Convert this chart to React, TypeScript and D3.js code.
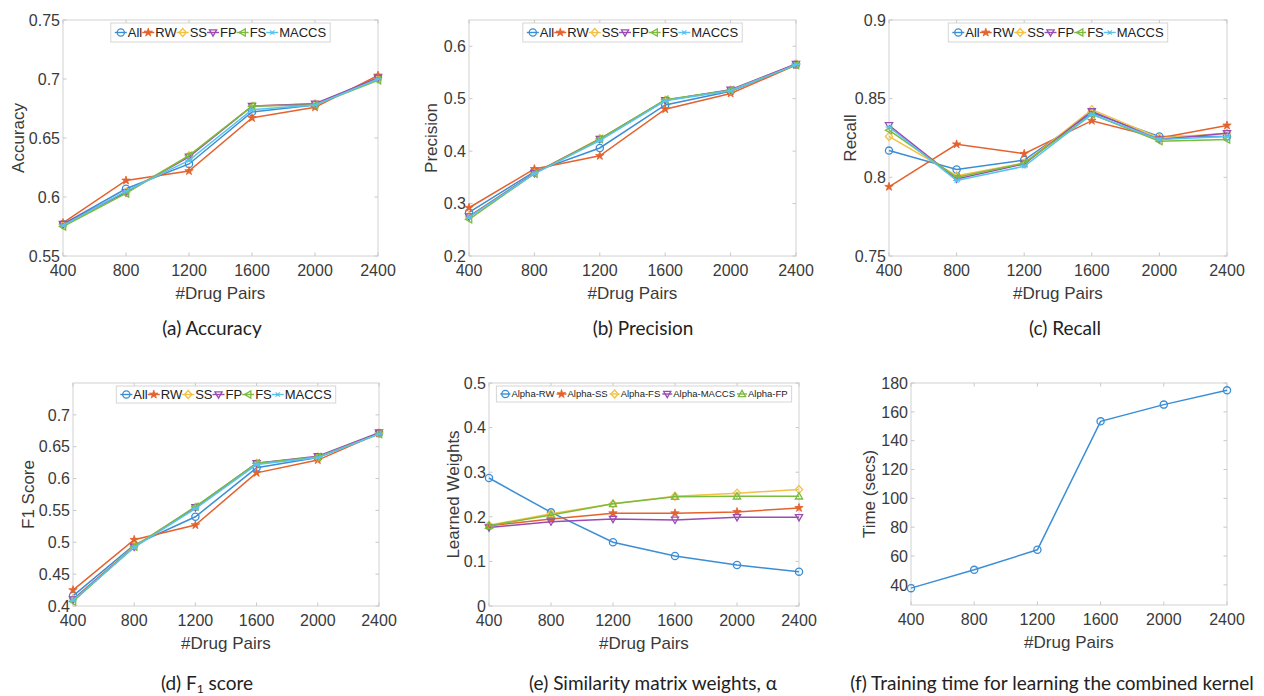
import React from "react";
import * as d3 from "d3";

// x values shared by every panel
const drugPairs = [400, 800, 1200, 1600, 2000, 2400];

const methodNames = ["All", "RW", "SS", "FP", "FS", "MACCS"];
const methodColors = ["#3b8ed5", "#e4622d", "#f2c146", "#9a4cb2", "#7bbb3f", "#58c3ef"];
const methodMarkers = ["circle", "star", "diamond", "down", "left", "cross"];

// rows follow methodNames
const accuracy = [
  [0.577, 0.607, 0.628, 0.672, 0.678, 0.701],
  [0.578, 0.614, 0.622, 0.667, 0.676, 0.703],
  [0.576, 0.604, 0.635, 0.677, 0.679, 0.7],
  [0.577, 0.604, 0.634, 0.677, 0.679, 0.701],
  [0.575, 0.603, 0.635, 0.677, 0.678, 0.699],
  [0.576, 0.605, 0.631, 0.674, 0.678, 0.7],
];
const precision = [
  [0.283, 0.361, 0.406, 0.488, 0.514, 0.565],
  [0.292, 0.366, 0.391, 0.48, 0.51, 0.564],
  [0.276, 0.358, 0.424, 0.497, 0.516, 0.566],
  [0.275, 0.358, 0.423, 0.497, 0.517, 0.566],
  [0.27, 0.357, 0.423, 0.498, 0.516, 0.564],
  [0.274, 0.357, 0.42, 0.496, 0.515, 0.565],
];
const recall = [
  [0.817, 0.805, 0.811, 0.841, 0.826, 0.826],
  [0.794, 0.821, 0.815, 0.836, 0.825, 0.833],
  [0.826, 0.801, 0.809, 0.843, 0.825, 0.828],
  [0.833, 0.799, 0.8085, 0.842, 0.824, 0.828],
  [0.83, 0.8, 0.809, 0.84, 0.823, 0.824],
  [0.832, 0.798, 0.807, 0.84, 0.824, 0.826],
];
const f1Score = [
  [0.416, 0.496, 0.54, 0.617, 0.633, 0.671],
  [0.425, 0.504, 0.527, 0.609, 0.629, 0.671],
  [0.411, 0.494, 0.555, 0.624, 0.634, 0.671],
  [0.41, 0.493, 0.555, 0.624, 0.635, 0.672],
  [0.407, 0.493, 0.556, 0.624, 0.634, 0.67],
  [0.409, 0.492, 0.553, 0.622, 0.633, 0.67],
];

const alphaNames = ["Alpha-RW", "Alpha-SS", "Alpha-FS", "Alpha-MACCS", "Alpha-FP"];
const alphaColors = ["#3b8ed5", "#e4622d", "#f2c146", "#9a4cb2", "#7bbb3f"];
const alphaMarkers = ["circle", "star", "diamond", "down", "up"];
const alphaWeights = [
  [0.287, 0.21, 0.143, 0.112, 0.092, 0.077],
  [0.18, 0.195, 0.208, 0.208, 0.211, 0.22],
  [0.181, 0.207, 0.229, 0.246, 0.253, 0.261],
  [0.176, 0.189, 0.195, 0.193, 0.199, 0.199],
  [0.18, 0.204, 0.229, 0.245, 0.246, 0.246],
];

const trainingTime = [37.7, 50.4, 64.3, 153.4, 165.0, 174.9];

const accTicks = [0.55, 0.6, 0.65, 0.7, 0.75];
const precTicks = [0.2, 0.3, 0.4, 0.5, 0.6];
const recallTicks = [0.75, 0.8, 0.85, 0.9];
const f1Ticks = [0.4, 0.45, 0.5, 0.55, 0.6, 0.65, 0.7];
const alphaTicks = [0, 0.1, 0.2, 0.3, 0.4, 0.5];
const timeTicks = [40, 60, 80, 100, 120, 140, 160, 180];

const FONT = '"Liberation Sans", Arial, sans-serif';
const CAPTION_FONT = 'Lato, "Open Sans", sans-serif';
const TEXT = "#3a3a3a";

let ctx: CanvasRenderingContext2D | null = null;
function textWidth(s: string, size: number) {
  if (!ctx) ctx = document.createElement("canvas").getContext("2d");
  if (!ctx) return s.length * size * 0.55;
  ctx.font = `${size}px "Liberation Sans"`;
  return ctx.measureText(s).width;
}

function Marker({ type, x, y, color }: { type: string; x: number; y: number; color: string }) {
  const s = 3.6;
  const common = { fill: "none", stroke: color, strokeWidth: 1.3 };
  if (type === "circle") return <circle cx={x} cy={y} r={s} {...common} />;
  if (type === "star") {
    const d = d3.symbol(d3.symbolStar, 22)();
    return <path d={d || ""} transform={`translate(${x},${y})`} fill={color} stroke={color} strokeWidth={0.8} />;
  }
  if (type === "diamond") {
    return <path d={`M${x},${y - s - 0.4}L${x + s},${y}L${x},${y + s + 0.4}L${x - s},${y}Z`} {...common} />;
  }
  if (type === "down") {
    return <path d={`M${x - s},${y - s * 0.75}L${x + s},${y - s * 0.75}L${x},${y + s}Z`} {...common} />;
  }
  if (type === "up") {
    return <path d={`M${x - s},${y + s * 0.75}L${x + s},${y + s * 0.75}L${x},${y - s}Z`} {...common} />;
  }
  if (type === "left") {
    return <path d={`M${x + s * 0.75},${y - s}L${x + s * 0.75},${y + s}L${x - s},${y}Z`} {...common} />;
  }
  // cross / asterisk
  return (
    <path
      d={`M${x - s},${y}L${x + s},${y}M${x - s * 0.6},${y - s * 0.6}L${x + s * 0.6},${y + s * 0.6}M${x - s * 0.6},${y + s * 0.6}L${x + s * 0.6},${y - s * 0.6}`}
      stroke={color}
      strokeWidth={1.1}
    />
  );
}

type Series = { name: string; color: string; marker: string; values: number[] };
type Box = { x0: number; x1: number; y0: number; y1: number };

function Legend({ series, box, fontSize, height, gap, icon }: { series: Series[]; box: Box; fontSize: number; height: number; gap: number; icon: number }) {
  const pad = 4;
  const widths = series.map((s) => textWidth(s.name, fontSize));
  const total = pad * 2 + d3.sum(widths) + series.length * (icon + 1) + (series.length - 1) * gap;
  const left = (box.x0 + box.x1) / 2 - total / 2;
  const top = box.y0 + 3;
  const cy = top + height / 2;
  let cursor = left + pad;
  const items = series.map((s, i) => {
    const ix = cursor;
    cursor += icon + 1 + widths[i] + gap;
    return (
      <g key={s.name}>
        <line x1={ix} x2={ix + icon} y1={cy} y2={cy} stroke={s.color} strokeWidth={1.4} />
        <Marker type={s.marker} x={ix + icon / 2} y={cy} color={s.color} />
        <text x={ix + icon + 1} y={cy} dy="0.36em" fontSize={fontSize} fill="#222" fontFamily={FONT}>
          {s.name}
        </text>
      </g>
    );
  });
  return (
    <g>
      <rect x={left} y={top} width={total} height={height} fill="#fff" stroke="#d6d6d6" strokeWidth={1} />
      {items}
    </g>
  );
}

function Panel(props: {
  box: Box;
  yDomain: [number, number];
  yTicks: number[];
  yLabel: string;
  yLabelX: number;
  series: Series[];
  legend?: { fontSize: number; height: number; gap: number; icon: number };
}) {
  const { box, yDomain, yTicks, yLabel, yLabelX, series, legend } = props;
  const x = d3.scaleLinear().domain([400, 2400]).range([box.x0, box.x1]);
  const y = d3.scaleLinear().domain(yDomain).range([box.y1, box.y0]);
  const line = d3
    .line<number>()
    .x((_, i) => x(drugPairs[i]))
    .y((d) => y(d));
  const fmt = (v: number) => String(+v.toFixed(2));
  const tick = 3.5;
  const midY = (box.y0 + box.y1) / 2;
  const midX = (box.x0 + box.x1) / 2;
  return (
    <g>
      <rect x={box.x0} y={box.y0} width={box.x1 - box.x0} height={box.y1 - box.y0} fill="#fff" stroke="#d2d2d2" strokeWidth={1} />
      {drugPairs.map((d) => (
        <g key={"xt" + d}>
          <line x1={x(d)} x2={x(d)} y1={box.y1} y2={box.y1 - tick} stroke="#c8c8c8" />
          <line x1={x(d)} x2={x(d)} y1={box.y0} y2={box.y0 + tick} stroke="#c8c8c8" />
          <text x={x(d)} y={box.y1 + 14} dy="0.36em" textAnchor="middle" fontSize={16} fill={TEXT} fontFamily={FONT}>
            {d}
          </text>
        </g>
      ))}
      {yTicks.map((t) => (
        <g key={"yt" + t}>
          <line x1={box.x0} x2={box.x0 + tick} y1={y(t)} y2={y(t)} stroke="#c8c8c8" />
          <line x1={box.x1} x2={box.x1 - tick} y1={y(t)} y2={y(t)} stroke="#c8c8c8" />
          <text x={box.x0 - 3} y={y(t)} dy="0.36em" textAnchor="end" fontSize={16} fill={TEXT} fontFamily={FONT}>
            {fmt(t)}
          </text>
        </g>
      ))}
      <text x={midX} y={box.y1 + 37} dy="0.36em" textAnchor="middle" fontSize={17} fill={TEXT} fontFamily={FONT}>
        #Drug Pairs
      </text>
      <text
        transform={`translate(${yLabelX},${midY}) rotate(-90)`}
        dy="0.36em"
        textAnchor="middle"
        fontSize={17}
        fill={TEXT}
        fontFamily={FONT}
      >
        {yLabel}
      </text>
      {series.map((s) => (
        <g key={s.name}>
          <path d={line(s.values) || ""} fill="none" stroke={s.color} strokeWidth={1.5} />
          {s.values.map((v, i) => (
            <Marker key={i} type={s.marker} x={x(drugPairs[i])} y={y(v)} color={s.color} />
          ))}
        </g>
      ))}
      {legend && <Legend series={series} box={box} {...legend} />}
    </g>
  );
}

function methodSeries(rows: number[][]): Series[] {
  return rows.map((values, i) => ({ name: methodNames[i], color: methodColors[i], marker: methodMarkers[i], values }));
}

function Caption({ x, y, children }: { x: number; y: number; children: React.ReactNode }) {
  return (
    <text x={x} y={y} dy="0.36em" textAnchor="middle" fontSize={19} fill="#222" fontFamily={CAPTION_FONT}>
      {children}
    </text>
  );
}

export default function App() {
  const topLegend = { fontSize: 13, height: 19, gap: 0, icon: 12 };
  const alphaSeries: Series[] = alphaWeights.map((values, i) => ({
    name: alphaNames[i],
    color: alphaColors[i],
    marker: alphaMarkers[i],
    values,
  }));
  return (
    <svg width={1264} height={696} style={{ position: "absolute", left: 0, top: 0, background: "#fff" }}>
      <rect width={1264} height={696} fill="#fff" />
      <Panel box={{ x0: 63, x1: 378, y0: 20, y1: 256 }} yDomain={[0.55, 0.75]} yTicks={accTicks} yLabel="Accuracy" yLabelX={18} series={methodSeries(accuracy)} legend={topLegend} />
      <Panel box={{ x0: 469, x1: 796, y0: 20, y1: 256 }} yDomain={[0.2, 0.65]} yTicks={precTicks} yLabel="Precision" yLabelX={431} series={methodSeries(precision)} legend={topLegend} />
      <Panel box={{ x0: 889, x1: 1227, y0: 20, y1: 256 }} yDomain={[0.75, 0.9]} yTicks={recallTicks} yLabel="Recall" yLabelX={850} series={methodSeries(recall)} legend={topLegend} />
      <Panel box={{ x0: 73, x1: 379, y0: 383, y1: 606 }} yDomain={[0.4, 0.75]} yTicks={f1Ticks} yLabel="F1 Score" yLabelX={28} series={methodSeries(f1Score)} legend={{ fontSize: 13, height: 17, gap: 0, icon: 12 }} />
      <Panel box={{ x0: 489, x1: 799, y0: 383, y1: 606 }} yDomain={[0, 0.5]} yTicks={alphaTicks} yLabel="Learned Weights" yLabelX={453} series={alphaSeries} legend={{ fontSize: 9.5, height: 16, gap: 2, icon: 10 }} />
      <Panel box={{ x0: 911, x1: 1227, y0: 383, y1: 605 }} yDomain={[26, 180]} yTicks={timeTicks} yLabel="Time (secs)" yLabelX={869} series={[{ name: "Time", color: "#3b8ed5", marker: "circle", values: trainingTime }]} />
      <Caption x={212} y={328}>(a) Accuracy</Caption>
      <Caption x={643} y={328}>(b) Precision</Caption>
      <Caption x={1065} y={328}>(c) Recall</Caption>
      <Caption x={207} y={683}>
        (d) F<tspan fontSize={12} dy="3">1</tspan>
        <tspan dy="-3"> score</tspan>
      </Caption>
      <Caption x={653} y={683}>(e) Similarity matrix weights, α</Caption>
      <Caption x={1052} y={683}>(f) Training time for learning the combined kernel</Caption>
    </svg>
  );
}
